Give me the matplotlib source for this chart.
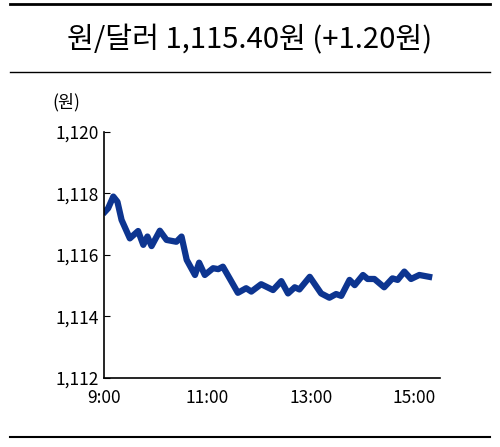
import matplotlib.pyplot as plt
from matplotlib.lines import Line2D

plt.rcParams['font.family'] = ['Noto Sans CJK KR', 'DejaVu Sans']

# hours (decimal) and won/dollar rate
hours = [9.02, 9.08, 9.18, 9.26, 9.34, 9.50, 9.66, 9.76, 9.84, 9.92, 10.08, 10.21,
         10.40, 10.50, 10.60, 10.76, 10.84, 10.95, 11.11, 11.21, 11.30, 11.43, 11.59,
         11.75, 11.85, 12.04, 12.27, 12.43, 12.56, 12.69, 12.78, 12.98, 13.20, 13.36,
         13.49, 13.59, 13.75, 13.85, 14.01, 14.10, 14.23, 14.42, 14.58, 14.68, 14.81,
         14.94, 15.10, 15.29]
rate = [1117.41, 1117.52, 1117.90, 1117.73, 1117.14, 1116.54, 1116.78, 1116.33,
        1116.60, 1116.29, 1116.79, 1116.49, 1116.43, 1116.60, 1115.84, 1115.35,
        1115.75, 1115.35, 1115.57, 1115.54, 1115.62, 1115.24, 1114.77, 1114.92,
        1114.81, 1115.05, 1114.86, 1115.15, 1114.75, 1114.95, 1114.88, 1115.29,
        1114.75, 1114.61, 1114.73, 1114.67, 1115.19, 1115.02, 1115.35, 1115.22,
        1115.22, 1114.95, 1115.24, 1115.19, 1115.46, 1115.22, 1115.35, 1115.29]
yticks = [1112, 1114, 1116, 1118, 1120]
xticks = [9, 11, 13, 15]
xlabels = ['9:00', '11:00', '13:00', '15:00']

fig = plt.figure(figsize=(5, 4.47), dpi=100)
ax = fig.add_axes([0.208, 0.1544, 0.672, 0.5503])
ax.plot(hours, rate, color='#0d3590', lw=4.5, solid_joinstyle='round')
ax.set_xlim(9, 15.5)
ax.set_ylim(1112, 1120)
ax.set_yticks(yticks)
ax.set_yticklabels([f'{v:,}' for v in yticks])
ax.set_xticks(xticks)
ax.set_xticklabels(xlabels)
ax.tick_params(direction='in', labelsize=12.5, length=4)
ax.tick_params(axis='x', length=0, pad=8)
for s in ['top', 'right']:
    ax.spines[s].set_visible(False)
ax.spines['left'].set_linewidth(1.2)
ax.spines['bottom'].set_linewidth(1.2)
ax.text(0.105, 0.76, '(원)', transform=fig.transFigure, fontsize=12.5)

fig.text(0.5, 0.91, '원/달러 1,115.40원 (+1.20원)', ha='center', va='center', fontsize=21)
fig.add_artist(Line2D([0.02, 0.98], [0.99, 0.99], color='black', lw=2))
fig.add_artist(Line2D([0.02, 0.98], [0.84, 0.84], color='black', lw=1))
fig.add_artist(Line2D([0.02, 0.98], [0.022, 0.022], color='black', lw=1.5))

fig.savefig('out.png')
